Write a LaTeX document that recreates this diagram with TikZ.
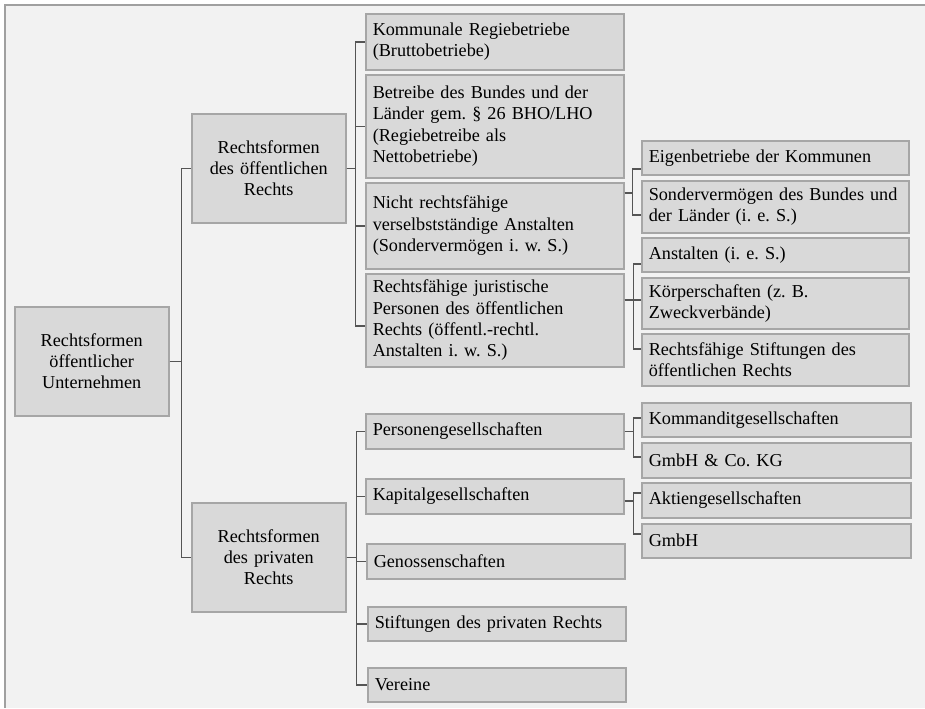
\documentclass[tikz,border=0pt]{standalone}
\usepackage{fontspec}
\setmainfont{Liberation Serif}
\usepackage{xcolor}
\usepackage{tikz}
\definecolor{boxfill}{HTML}{D9D9D9}
\definecolor{boxline}{HTML}{A6A6A6}
\definecolor{connline}{HTML}{555555}
\definecolor{bgfill}{HTML}{F2F2F2}
\definecolor{frameline}{HTML}{A0A0A0}
\frenchspacing

\begin{document}
\begin{tikzpicture}[x=0.5pt,y=-0.5pt,
  box/.style={draw=boxline,fill=boxfill,line width=0.75pt,anchor=north west,
    inner xsep=3.5pt,inner ysep=0pt,font=\fontsize{9.1}{10.7}\selectfont},
  headbox/.style={box,minimum width=77pt,minimum height=54.5pt,text width=70pt,align=center},
  midbox/.style={box,minimum width=129pt,text width=122pt,align=left,minimum height=#1},
  leafbox/.style={box,minimum width=133.5pt,text width=126.5pt,align=left,minimum height=#1},
  conn/.style={draw=connline,line width=0.75pt}]
\useasboundingbox (0,0) rectangle (925,708);
\fill[white] (0,0) rectangle (925,708);
\fill[bgfill] (5,5) rectangle (925,708);
\draw[frameline,line width=0.75pt] (5,708) -- (5,5) -- (925,5);
%% first levels
\node[headbox] (root) at (14,306) {Rechtsformen\\öffentlicher\\Unternehmen};
\node[headbox] (oeff) at (191,113) {Rechtsformen\\des öffentlichen\\Rechts};
\node[headbox] (priv) at (191,502) {Rechtsformen\\des privaten\\Rechts};
%% public law
\node[midbox=28pt] (kommunal) at (365,13) {Kommunale Regiebetriebe\\(Bruttobetriebe)};
\node[midbox=51.5pt] (betriebe) at (365,74) {Betreibe des Bundes und der\\Länder gem. § 26 BHO/LHO\\(Regiebetreibe als\\Nettobetriebe)};
\node[midbox=43pt] (nicht) at (365,182) {Nicht rechtsfähige\\verselbstständige Anstalten\\(Sondervermögen i. w. S.)};
\node[midbox=46.5pt] (rjur) at (365,273) {Rechtsfähige juristische\\Personen des öffentlichen\\Rechts (öffentl.-rechtl.\\Anstalten i. w. S.)};
\node[leafbox=17pt] (eigen) at (641,140) {Eigenbetriebe der Kommunen};
\node[leafbox=26pt] (sonder) at (641,180) {Sondervermögen des Bundes und\\der Länder (i. e. S.)};
\node[leafbox=17pt] (anst) at (641,237) {Anstalten (i. e. S.)};
\node[leafbox=25.5pt] (koerp) at (641,277) {Körperschaften (z. B.\\Zweckverbände)};
\node[leafbox=26pt] (rstift) at (641,333) {Rechtsfähige Stiftungen des\\öffentlichen Rechts};
%% private law
\node[midbox=17.5pt] (person) at (365,413) {Personengesellschaften};
\node[midbox=17.5pt] (kapital) at (365,478) {Kapitalgesellschaften};
\node[midbox=17.5pt] (genoss) at (366,543) {Genossenschaften};
\node[midbox=17pt] (pstift) at (367,606) {Stiftungen des privaten Rechts};
\node[midbox=17pt] (vereine) at (367,667) {Vereine};
\node[leafbox=17pt,minimum width=134.5pt,text width=127.5pt] (kommandit) at (641,402) {Kommanditgesellschaften};
\node[leafbox=17.5pt,minimum width=134.5pt,text width=127.5pt] (gmbhco) at (641,442) {GmbH \& Co. KG};
\node[leafbox=17.5pt,minimum width=134.5pt,text width=127.5pt] (ag) at (641,482) {Aktiengesellschaften};
\node[leafbox=17pt,minimum width=134.5pt,text width=127.5pt] (gmbh) at (641,523) {GmbH};
%% connectors
\foreach \c in {oeff,priv}
    \draw[conn] (root.east) -- ++(6pt,0) |- (\c.west);
\foreach \c in {kommunal,betriebe,nicht}
    \draw[conn] (oeff.east) -- ++(4.5pt,0) |- (\c.west);
\draw[conn] (oeff.east) -- ++(4.5pt,0) |- ([yshift=-2.75pt]rjur.west);
\foreach \c/\s in {eigen/-5.5,sonder/-4}
    \draw[conn] ([yshift=16.5pt]nicht.east) -- ++(4pt,0) |- ([yshift=\s pt]\c.west);
\foreach \c/\s in {anst/-4.5,koerp/1.75,rstift/5.5}
    \draw[conn] ([yshift=10.25pt]rjur.east) -- ++(4.5pt,0) |- ([yshift=\s pt]\c.west);
\foreach \c in {person,kapital,genoss,pstift,vereine}
    \draw[conn] (priv.east) -- ++(5pt,0) |- (\c.west);
\foreach \c/\s in {kommandit/1,gmbhco/1.75}
    \draw[conn] (person.east) -- ++(4.5pt,0) |- ([yshift=\s pt]\c.west);
\foreach \c/\s in {ag/3.75,gmbh/3.5}
    \draw[conn] ([yshift=-2.25pt]kapital.east) -- ++(4.5pt,0) |- ([yshift=\s pt]\c.west);
\end{tikzpicture}
\end{document}
